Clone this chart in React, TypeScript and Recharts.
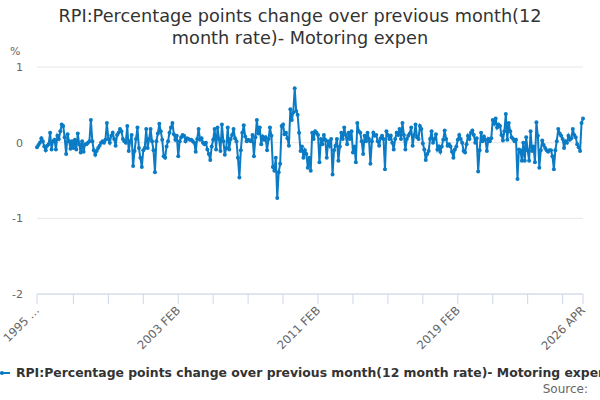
import { LineChart, Line, XAxis, YAxis, CartesianGrid } from 'recharts'

const MONTHS = ['JAN', 'FEB', 'MAR', 'APR', 'MAY', 'JUN', 'JUL', 'AUG', 'SEP', 'OCT', 'NOV', 'DEC']
const START_YEAR = 1995

// one row per year, 1995 JAN .. 2026 APR
const rpiChange = [
  -0.06, -0.03, 0.0, 0.06, 0.02, -0.05, -0.1, -0.04, -0.02, 0.13, -0.09, 0.02,
  0.04, -0.09, 0.09, 0.05, 0.15, 0.24, 0.22, 0.07, -0.15, 0.11, 0.02, -0.08,
  0.02, -0.07, 0.04, -0.09, 0.12, -0.02, -0.13, 0.02, -0.12, -0.02, -0.02, 0.0,
  0.02, 0.3, 0.02, -0.1, -0.16, -0.11, -0.07, -0.04, 0.0, 0.02, 0.0, 0.04,
  0.26, 0.05, 0.0, 0.09, 0.13, 0.05, -0.04, 0.1, 0.13, 0.18, 0.15, 0.05,
  0.02, 0.0, 0.22, -0.11, 0.02, 0.1, -0.31, -0.11, 0.05, 0.2, -0.07, -0.2,
  -0.32, -0.1, -0.07, 0.18, -0.07, 0.05, 0.18, 0.02, -0.1, -0.39, 0.02, 0.12,
  0.25, 0.15, 0.04, -0.18, -0.2, -0.05, 0.02, 0.13, 0.2, 0.26, 0.11, 0.04,
  0.09, -0.18, 0.02, 0.07, 0.1, 0.09, 0.02, 0.06, 0.05, 0.04, 0.04, 0.02,
  0.0, -0.12, 0.05, 0.18, 0.04, 0.06, 0.0, -0.02, 0.0, -0.09, -0.15, -0.23,
  -0.05, 0.04, 0.18, -0.09, 0.2, 0.05, -0.11, 0.24, 0.02, -0.16, -0.07, 0.2,
  -0.09, 0.05, 0.1, 0.18, 0.06, 0.02, -0.2, -0.46, -0.1, 0.13, 0.23, 0.08,
  0.02, 0.04, 0.03, 0.02, 0.1, -0.18, 0.07, 0.3, 0.12, 0.2, -0.02, 0.08,
  0.04, 0.07, -0.1, 0.05, 0.2, 0.09, -0.32, -0.37, -0.2, -0.73, -0.39, -0.28,
  0.22, 0.24, 0.11, 0.13, 0.06, -0.04, 0.44, 0.3, 0.4, 0.72, 0.42, 0.37,
  0.13, -0.11, -0.05, -0.2, -0.1, -0.15, -0.33, -0.2, -0.37, 0.13, 0.05, 0.15,
  0.13, 0.1, -0.26, 0.05, -0.02, 0.1, 0.04, -0.2, 0.02, -0.04, 0.05, -0.42,
  -0.1, -0.04, 0.05, -0.24, -0.05, 0.13, 0.05, 0.2, 0.1, -0.02, 0.13, 0.05,
  0.15, -0.13, -0.05, -0.26, 0.26, 0.15, 0.13, 0.02, -0.15, 0.09, 0.02, 0.13,
  0.05, -0.28, 0.02, 0.13, 0.09, 0.1, 0.02, -0.04, 0.06, 0.09, 0.05, -0.35,
  0.15, 0.1, 0.05, 0.09, 0.0, -0.09, 0.05, 0.13, 0.1, 0.18, 0.05, 0.26,
  0.1, -0.09, 0.05, 0.09, 0.12, 0.2, -0.04, 0.1, 0.24, 0.07, 0.05, 0.22,
  0.18, -0.01, -0.09, -0.23, -0.15, -0.11, 0.05, 0.15, 0.0, 0.05, 0.11, -0.09,
  -0.05, -0.12, -0.05, 0.04, 0.16, 0.05, -0.04, -0.02, -0.05, -0.12, -0.2, -0.09,
  -0.05, 0.04, 0.1, 0.05, 0.0, -0.11, -0.13, -0.02, 0.09, 0.05, 0.13, 0.16,
  0.1, 0.0, 0.06, -0.38, -0.1, 0.13, 0.02, 0.08, 0.04, -0.11, 0.05, 0.02,
  0.06, 0.3, 0.25, 0.32, 0.2, 0.24, 0.22, 0.1, 0.03, 0.15, 0.38, 0.04,
  0.26, 0.15, 0.07, 0.05, 0.02, 0.04, -0.48, -0.09, -0.1, -0.24, 0.0, -0.24,
  0.07, -0.1, -0.24, 0.15, -0.11, -0.05, -0.26, 0.27, 0.09, -0.33, -0.1, 0.03,
  -0.03, -0.07, -0.1, -0.12, -0.1, -0.1, -0.18, -0.35, -0.1, 0.02, 0.18, 0.12,
  0.09, 0.05, -0.07, 0.02, 0.0, 0.09, 0.04, 0.06, 0.18, 0.1, 0.07, -0.02,
  -0.06, -0.11, 0.26, 0.32,
]

const months = rpiChange.map(
  (_, i) => `${START_YEAR + Math.floor(i / 12)} ${MONTHS[i % 12]}`
)

const xTicks = [0, 25, 49, 73, 97, 121, 145, 169, 193, 217, 241, 265, 289, 313, 337, 361, 375]
const labelledTicks = [0, 97, 193, 289, 375]
const yTicks = [-2, -1, 0, 1]

const TITLE_LINES = ['RPI:Percentage points change over previous month(12', 'month rate)- Motoring expen']
const SERIES_NAME = 'RPI:Percentage points change over previous month(12 month rate)- Motoring expen'

const FONT = '"DejaVu Sans", sans-serif'
const BLUE = '#0a7bc4'

const data = rpiChange.map((v, i) => ({ i, month: months[i], value: v }))

function MonthTick({ x, y, payload }: any) {
  if (!labelledTicks.includes(payload.value)) return null
  const text = payload.value === 0 ? '1995 …' : months[payload.value]
  const tx = x + 3
  const ty = y + 5
  return (
    <text
      x={tx}
      y={ty}
      transform={`rotate(-45, ${tx}, ${ty})`}
      textAnchor="end"
      fontSize={11.6}
      fontFamily={FONT}
      fill="#666"
    >
      {text}
    </text>
  )
}

export default function App() {
  return (
    <div style={{ position: 'relative', width: 600, height: 400, fontFamily: FONT, overflow: 'hidden', background: '#fff' }}>
      <style>{'body{margin:0}'}</style>
      {TITLE_LINES.map((line, k) => (
        <div
          key={k}
          style={{
            position: 'absolute',
            left: 0,
            width: 600,
            top: 6 + k * 22,
            textAlign: 'center',
            fontSize: 17.7,
            lineHeight: '21px',
            color: '#333',
            whiteSpace: 'nowrap',
          }}
        >
          {line}
        </div>
      ))}
      <div style={{ position: 'absolute', left: 10, top: 45, fontSize: 11, color: '#666' }}>%</div>
      <LineChart
        width={600}
        height={400}
        data={data}
        margin={{ top: 67, right: 17, bottom: 46, left: 0 }}
      >
        <CartesianGrid vertical={false} stroke="#e6e6e6" />
        <XAxis
          dataKey="i"
          type="number"
          domain={[0, 375]}
          ticks={xTicks}
          interval={0}
          height={60}
          tickSize={10}
          tickMargin={2}
          stroke="#ccd6eb"
          tick={<MonthTick />}
        />
        <YAxis
          domain={[-2, 1]}
          ticks={yTicks}
          width={37}
          axisLine={false}
          tickLine={false}
          tickSize={0}
          tickMargin={14}
          tick={{ fontSize: 11, fill: '#666', fontFamily: FONT }}
        />
        <Line
          type="linear"
          dataKey="value"
          stroke={BLUE}
          strokeWidth={2}
          dot={{ r: 2, fill: BLUE, stroke: BLUE, strokeWidth: 0 }}
          isAnimationActive={false}
        />
      </LineChart>
      <div style={{ position: 'absolute', left: 0, top: 365, whiteSpace: 'nowrap', fontSize: 12.4, fontWeight: 'bold', color: '#333', display: 'flex', alignItems: 'center' }}>
        <svg width={15} height={12} style={{ marginRight: 1 }}>
          <line x1={-2} y1={6} x2={10} y2={6} stroke={BLUE} strokeWidth={2} />
          <circle cx={2} cy={6} r={2} fill={BLUE} />
        </svg>
        {SERIES_NAME}
      </div>
      <div style={{ position: 'absolute', right: 12, top: 382, fontSize: 12, color: '#666' }}>Source:</div>
    </div>
  )
}
